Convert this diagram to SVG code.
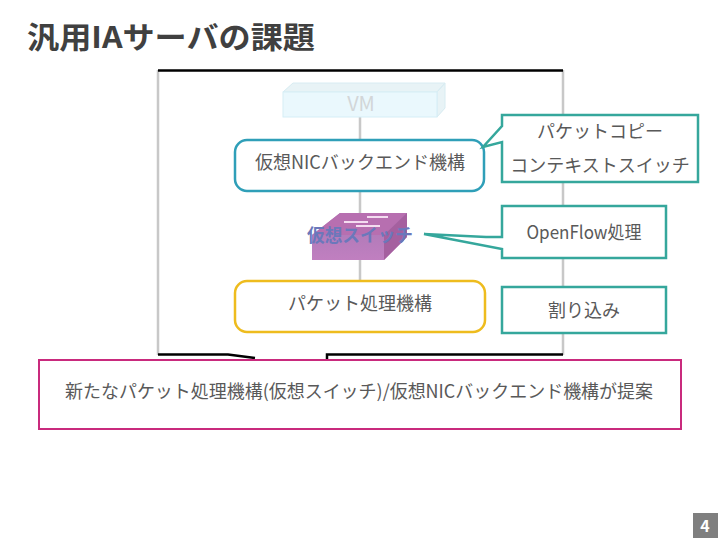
<svg xmlns="http://www.w3.org/2000/svg" width="720" height="540" viewBox="0 0 720 540">
<defs>
<linearGradient id="sw" x1="0" y1="0" x2="0" y2="1"><stop offset="0" stop-color="#a878b4"/><stop offset="1" stop-color="#c07fc0"/></linearGradient>
</defs>
<style>
text{font-family:"Noto Sans CJK JP","Liberation Sans",sans-serif;fill:#595959;font-size:18px;text-anchor:middle}
.call{fill:#fff;stroke:#35a79c;stroke-width:2.5}
.box{fill:#fff;stroke-width:2.5}
.g{stroke:#c8c8c8;stroke-width:2.500;fill:none}
.k{stroke:#000;stroke-width:2.5;fill:none}
</style>
<rect width="720" height="540" fill="#fff"/>
<text id="title" x="171" y="48" textLength="288" lengthAdjust="spacingAndGlyphs" style="font-size:30px;font-weight:700;fill:#404040">汎用IAサーバの課題</text>
<g id="connectors">
<path class="g" d="M158 70V355M563 70V355M360 116V140M360 190V213M360 260V281"/>
<path class="k" d="M158 70.500H563M158 354.500H228L255 358M327 359V354.500H563"/>
</g>
<g id="vm">
<path d="M283 92L293 83H445V108L437 117H283Z" fill="#eaf8fc"/>
<path d="M283 92L293 83H445L437 92Z M437 92L445 83V108L437 117Z" fill="#e8f3f6" stroke="#d8ecf2" stroke-width="1"/>
<rect x="283" y="92" width="154" height="25" fill="#eaf8fd" stroke="#d5eef6"/>
<text x="361" y="111" style="fill:#d2d6d8;font-size:20px">VM</text>
</g>
<g id="backend">
<rect class="box" x="235" y="140" width="249" height="51" rx="12" stroke="#2f9fb8"/>
<text x="360" y="169" textLength="210" lengthAdjust="spacingAndGlyphs">仮想NICバックエンド機構</text>
</g>
<g id="switch">
<path d="M312 235L340 213H407V237L384 260H312Z" fill="url(#sw)"/>
<path d="M312 235L340 213H407L384 235Z" fill="#b76fb0"/>
<path d="M384 235L407 213V237L384 260Z" fill="#a5609f"/>
<path d="M367 217H388M344 222H368M356 226H380" stroke="#f4dcf0" stroke-width="2" fill="none"/>
<text x="360" y="242" textLength="106" lengthAdjust="spacingAndGlyphs" style="fill:#6b78bb;font-weight:700">仮想スイッチ</text>
</g>
<g id="packet">
<rect class="box" x="235" y="281" width="250" height="51" rx="12" stroke="#eebc1e"/>
<text x="360" y="310">パケット処理機構</text>
</g>
<g id="callout1">
<path class="call" d="M502 115H698V182H502V142L483 147L502 126Z"/>
<text x="600" y="138">パケットコピー</text>
<text x="600" y="172">コンテキストスイッチ</text>
</g>
<g id="callout2">
<path class="call" d="M502 206H666V258H502V249L424 234L486 237H502Z"/>
<text x="584" y="239" textLength="115" lengthAdjust="spacingAndGlyphs">OpenFlow処理</text>
</g>
<g id="callout3">
<rect class="call" x="502" y="287" width="164" height="46"/>
<text x="584" y="317">割り込み</text>
</g>
<g id="proposal">
<rect x="39" y="360" width="642" height="69" fill="#fff" stroke="#c92a7d" stroke-width="2"/>
<text x="359" y="398" textLength="588" lengthAdjust="spacingAndGlyphs">新たなパケット処理機構(仮想スイッチ)/仮想NICバックエンド機構が提案</text>
</g>
<g id="page">
<rect x="693" y="513" width="25" height="25" fill="#7f7f7f"/>
<text x="705" y="532" style="fill:#fff;font-weight:700;font-size:16px">4</text>
</g>
</svg>
